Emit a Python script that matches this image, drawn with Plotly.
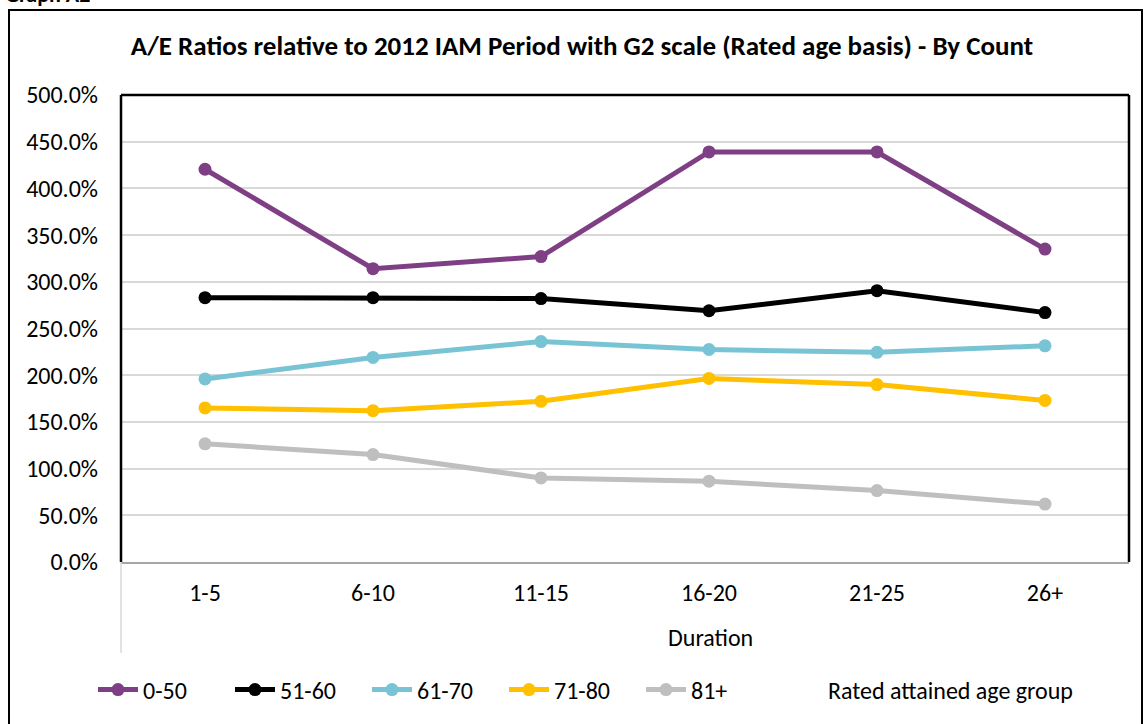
import plotly.graph_objects as go

# Duration bands on the category axis
durations = ["1-5", "6-10", "11-15", "16-20", "21-25", "26+"]

# A/E ratios (%) by rated attained age group
ae_0_50 = [420.5, 314.0, 327.0, 439.0, 439.0, 335.0]
ae_51_60 = [283.0, 283.0, 282.0, 269.0, 290.5, 267.0]
ae_61_70 = [196.0, 219.0, 236.0, 227.5, 224.5, 231.5]
ae_71_80 = [165.0, 162.0, 172.0, 196.5, 190.0, 173.0]
ae_81_plus = [126.5, 115.0, 90.0, 86.5, 76.5, 62.0]

group_names = ["0-50", "51-60", "61-70", "71-80", "81+"]
group_values = [ae_0_50, ae_51_60, ae_61_70, ae_71_80, ae_81_plus]
group_colors = ["#7f3f85", "#000000", "#78c4d4", "#ffc000", "#bfbfbf"]

y_ticks = [0, 50, 100, 150, 200, 250, 300, 350, 400, 450, 500]
y_tick_text = [f"{v:.1f}%" for v in y_ticks]

FONT = "Carlito, Calibri, Lato, sans-serif"

fig = go.Figure()
for name, vals, col in zip(group_names, group_values, group_colors):
    fig.add_trace(go.Scatter(
        x=durations, y=vals, name=name, mode="lines+markers",
        line=dict(color=col, width=5),
        marker=dict(color=col, size=13),
    ))

# plot-area geometry in pixels (used to place decorations in paper units)
W, H = 1145, 724
L, R, T, B = 121, 1129, 95, 562
pw, ph = R - L, B - T


def px_x(px):
    return (px - L) / pw


def px_y(py):
    return (B - py) / ph


shapes = [
    # outer chart frame
    dict(type="rect", xref="paper", yref="paper",
         x0=px_x(9), x1=px_x(1142), y0=px_y(730), y1=px_y(10),
         line=dict(color="#000000", width=2), fillcolor="rgba(0,0,0,0)"),
    # plot-area frame: top, left, right
    dict(type="line", xref="paper", yref="paper", x0=0, x1=1, y0=1, y1=1,
         line=dict(color="#000000", width=2.5)),
    dict(type="line", xref="paper", yref="paper", x0=0, x1=0, y0=0, y1=1,
         line=dict(color="#000000", width=2.5)),
    dict(type="line", xref="paper", yref="paper", x0=1, x1=1, y0=0, y1=1,
         line=dict(color="#000000", width=2.5)),
    # category axis boundary line below the axis
    dict(type="line", xref="paper", yref="paper", x0=0, x1=0,
         y0=px_y(653), y1=0, line=dict(color="#d9d9d9", width=1.5)),
]

annotations = [
    dict(text="<b>Graph A2</b>", xref="paper", yref="paper",
         x=px_x(3), y=px_y(-5), xanchor="left", yanchor="middle",
         showarrow=False, font=dict(family=FONT, size=22, color="#000000")),
    dict(text="Duration", xref="paper", yref="paper",
         x=px_x(710), y=px_y(637), xanchor="center", yanchor="middle",
         showarrow=False, font=dict(family=FONT, size=24, color="#000000")),
    dict(text="Rated attained age group", xref="paper", yref="paper",
         x=px_x(950), y=px_y(690), xanchor="center", yanchor="middle",
         showarrow=False, font=dict(family=FONT, size=24, color="#000000")),
]

fig.update_layout(
    width=W, height=H,
    margin=dict(l=L, r=W - R, t=T, b=H - B),
    paper_bgcolor="#ffffff", plot_bgcolor="#ffffff",
    font=dict(family=FONT, size=24, color="#000000"),
    title=dict(
        text="<b>A/E Ratios relative to 2012 IAM Period with G2 scale (Rated age basis) - By Count</b>",
        x=582 / W, y=1 - 46 / H, xanchor="center", yanchor="middle",
        font=dict(family=FONT, size=27, color="#000000"),
    ),
    xaxis=dict(
        type="category", range=[-0.5, 5.5], showgrid=False, zeroline=False,
        showline=True, linecolor="#a6a6a6", linewidth=1.5,
        ticks="", tickfont=dict(size=24), ticklabelstandoff=8,
        fixedrange=True,
    ),
    yaxis=dict(
        range=[0, 500], tickvals=y_ticks, ticktext=y_tick_text,
        showgrid=True, gridcolor="#d9d9d9", gridwidth=1.5,
        zeroline=False, showline=False, ticks="",
        tickfont=dict(size=24), ticklabelstandoff=22,
    ),
    legend=dict(
        orientation="h", x=px_x(93), y=px_y(690), xanchor="left", yanchor="middle",
        font=dict(family=FONT, size=24), itemwidth=40,
        entrywidth=82, entrywidthmode="pixels",
        bgcolor="rgba(0,0,0,0)",
    ),
    shapes=shapes, annotations=annotations,
)

fig.write_html("out.html")
